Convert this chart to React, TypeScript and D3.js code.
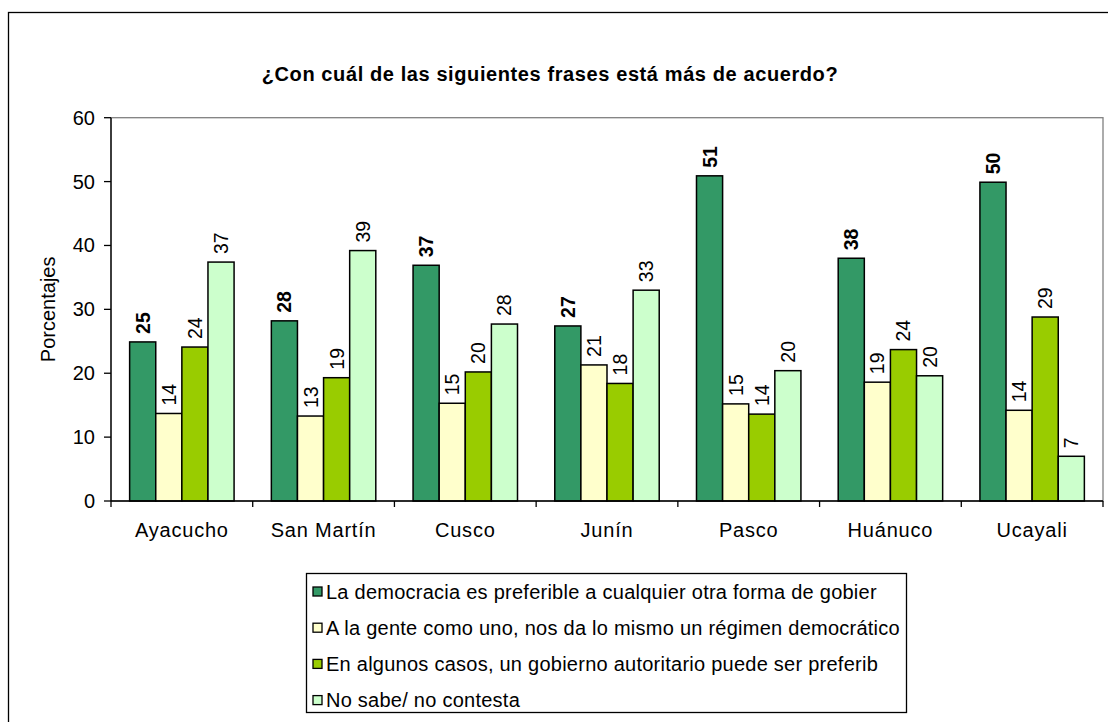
import React from "react";
import * as d3 from "d3";

const title = "¿Con cuál de las siguientes frases está más de acuerdo?";
const yAxisLabel = "Porcentajes";
const categories = ["Ayacucho", "San Martín", "Cusco", "Junín", "Pasco", "Huánuco", "Ucayali"];
const seriesNames = [
  "La democracia es preferible a cualquier otra forma de gobier",
  "A la gente como uno, nos da lo mismo un régimen democrático",
  "En algunos casos, un gobierno autoritario puede ser preferib",
  "No sabe/ no contesta",
];
const democracia = [24.9, 28.2, 36.9, 27.4, 50.9, 38.0, 49.9];
const loMismo = [13.7, 13.3, 15.3, 21.3, 15.2, 18.6, 14.2];
const autoritario = [24.1, 19.3, 20.2, 18.4, 13.6, 23.7, 28.8];
const noSabe = [37.4, 39.2, 27.7, 33.0, 20.4, 19.6, 7.0];
const yTicks = [0, 10, 20, 30, 40, 50, 60];
const seriesColors = ["#339966", "#FFFFCC", "#99CC00", "#CCFFCC"];
const seriesBold = [true, false, false, false];

const seriesValues = [democracia, loMismo, autoritario, noSabe];

const FONT = "'Liberation Sans', Arial, sans-serif";

export default function App() {
  const left = 111;
  const right = 1103;
  const top = 117.7;
  const bottom = 501;

  const x0 = d3
    .scaleBand<string>()
    .domain(categories)
    .range([left, right])
    .paddingInner(0.263)
    .paddingOuter(0.1315);
  const x1 = d3
    .scaleBand<number>()
    .domain(d3.range(seriesValues.length))
    .range([0, x0.bandwidth()]);
  const y = d3.scaleLinear().domain([0, 60]).range([bottom, top]);

  const step = x0.step();
  const gapHalf = (step - x0.bandwidth()) / 2;
  const boundaries = categories.map((c) => (x0(c) as number) - gapHalf);
  boundaries.push(right);

  const legendX = 306;
  const legendY = 573;
  const legendRowY = (i: number) => 591.5 + i * 36.2;

  return (
    <svg
      width={1108}
      height={722}
      style={{ position: "absolute", left: 0, top: 0, background: "#fff" }}
      fontFamily={FONT}
    >
      <rect x={0} y={0} width={1108} height={722} fill="#fff" />
      {/* outer chart border */}
      <rect x={8.5} y={12.5} width={1200} height={800} fill="none" stroke="#000" strokeWidth={1.3} />

      {/* title */}
      <text
        x={550}
        y={81}
        textAnchor="middle"
        fontSize={20}
        fontWeight="bold"
        letterSpacing={0.6}
        fill="#000"
      >
        {title}
      </text>

      {/* plot area border (gray) */}
      <rect x={left} y={top} width={right - left} height={bottom - top} fill="#fff" stroke="#808080" strokeWidth={1.3} />

      {/* bars */}
      {categories.map((c, ci) => (
        <g key={c} transform={`translate(${x0(c)},0)`}>
          {seriesValues.map((vals, si) => {
            const v = vals[ci];
            const bx = x1(si) as number;
            const bw = x1.bandwidth();
            return (
              <g key={si}>
                <rect
                  x={bx}
                  y={y(v)}
                  width={bw}
                  height={y(0) - y(v)}
                  fill={seriesColors[si]}
                  stroke="#000"
                  strokeWidth={1.5}
                />
                <text
                  transform={`translate(${bx + bw / 2},${y(v) - 8}) rotate(-90)`}
                  textAnchor="start"
                  dominantBaseline="central"
                  fontSize={19.5}
                  fontWeight={seriesBold[si] ? "bold" : "normal"}
                  fill="#000"
                >
                  {Math.round(v)}
                </text>
              </g>
            );
          })}
        </g>
      ))}

      {/* y axis */}
      <line x1={left} x2={left} y1={top} y2={bottom} stroke="#000" strokeWidth={1.3} />
      {yTicks.map((t) => (
        <g key={t}>
          <line x1={left - 7} x2={left} y1={y(t)} y2={y(t)} stroke="#000" strokeWidth={1.3} />
          <text
            x={95}
            y={y(t)}
            textAnchor="end"
            dominantBaseline="central"
            fontSize={20}
            fill="#000"
          >
            {t}
          </text>
        </g>
      ))}

      {/* x axis */}
      <line x1={left} x2={right} y1={bottom} y2={bottom} stroke="#000" strokeWidth={1.3} />
      {boundaries.map((bx, i) => (
        <line key={i} x1={bx} x2={bx} y1={bottom} y2={bottom + 6} stroke="#000" strokeWidth={1.3} />
      ))}
      {categories.map((c) => (
        <text
          key={c}
          x={(x0(c) as number) + x0.bandwidth() / 2}
          y={537}
          textAnchor="middle"
          fontSize={20}
          letterSpacing={0.8}
          fill="#000"
        >
          {c}
        </text>
      ))}

      {/* y axis title */}
      <text
        transform={`translate(48,${(top + bottom) / 2}) rotate(-90)`}
        textAnchor="middle"
        dominantBaseline="central"
        fontSize={20}
        fill="#000"
      >
        {yAxisLabel}
      </text>

      {/* legend */}
      <rect x={legendX + 0.5} y={legendY + 0.5} width={600} height={139} fill="#fff" stroke="#000" strokeWidth={1.3} />
      {seriesNames.map((name, i) => (
        <g key={name}>
          <rect
            x={313}
            y={legendRowY(i) - 4.5}
            width={9}
            height={9}
            fill={seriesColors[i]}
            stroke="#000"
            strokeWidth={1.3}
          />
          <text
            x={326}
            y={legendRowY(i)}
            dominantBaseline="central"
            fontSize={20}
            letterSpacing={0.25}
            fill="#000"
          >
            {name}
          </text>
        </g>
      ))}
    </svg>
  );
}
